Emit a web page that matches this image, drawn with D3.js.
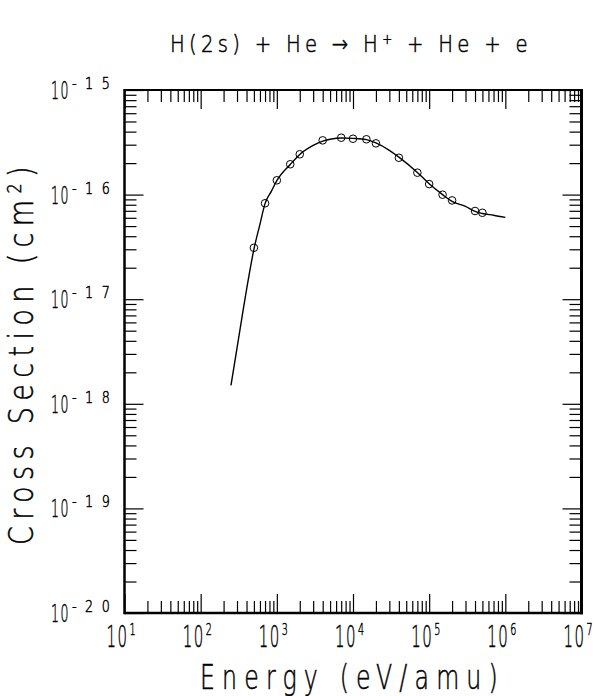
<!DOCTYPE html>
<html>
<head>
<meta charset="utf-8">
<script src="https://cdn.jsdelivr.net/npm/d3@7"></script>
<style>
  html, body { margin: 0; padding: 0; background: #fff; }
  svg { display: block; }
  text { font-family: "DejaVu Sans", "Liberation Sans", sans-serif; font-weight: 200; fill: #000; stroke: #000; stroke-width: 0.5; }
</style>
</head>
<body>
<svg id="chart" width="598" height="696"></svg>
<script>
// ---- data ----
const curveEnergy = [250, 300, 400, 500, 600, 700, 850, 1000, 1500, 2000, 3000, 4000, 5000, 7000,
  10000, 15000, 20000, 30000, 40000, 70000, 100000, 150000, 200000, 300000, 400000, 500000, 700000, 1000000];
const curveSigma = [1.5e-18, 3.4e-18, 1.23e-17, 3.0e-17, 5.2e-17, 8.2e-17, 1.08e-16, 1.36e-16, 1.94e-16,
  2.42e-16, 2.95e-16, 3.25e-16, 3.38e-16, 3.48e-16, 3.45e-16, 3.35e-16, 3.12e-16, 2.65e-16, 2.28e-16,
  1.63e-16, 1.27e-16, 1.0e-16, 8.6e-17, 7.7e-17, 6.9e-17, 6.6e-17, 6.35e-17, 6.05e-17];
const pointEnergy = [500, 700, 1000, 1500, 2000, 4000, 7000, 10000, 15000, 20000, 40000, 70000,
  100000, 150000, 200000, 400000, 500000];
const pointSigma = [3.1e-17, 8.26e-17, 1.37e-16, 1.95e-16, 2.43e-16, 3.30e-16, 3.50e-16, 3.42e-16,
  3.38e-16, 3.09e-16, 2.25e-16, 1.62e-16, 1.26e-16, 9.98e-17, 8.8e-17, 6.97e-17, 6.7e-17];
const xExponents = ["1", "2", "3", "4", "5", "6", "7"];
const yExponents = ["-20", "-19", "-18", "-17", "-16", "-15"];
const titleText = ["H(2s) + He \u2192 H", "+", " + He + e"];
const xTitle = "Energy (eV/amu)";
const yTitle = ["Cross Section (cm", "2", ")"];

// ---- layout ----
const L = 124.5, R = 581.5, T = 90, B = 613;
const svg = d3.select("#chart");
const x = d3.scaleLog().domain([1e1, 1e7]).range([L, R]);
const y = d3.scaleLog().domain([1e-20, 1e-15]).range([B, T]);

const xMajor = xExponents.map(e => Math.pow(10, +e));
const yMajor = yExponents.map(e => Math.pow(10, +e));
const xMinor = [], yMinor = [];
for (let d = 1; d < 7; d++) for (let k = 2; k <= 9; k++) xMinor.push(k * Math.pow(10, d));
for (let d = -20; d < -15; d++) for (let k = 2; k <= 9; k++) yMinor.push(k * Math.pow(10, d));

function axisGroup(axis, tx, ty) {
  const g = svg.append("g").attr("transform", `translate(${tx},${ty})`).call(axis);
  g.select(".domain").remove();
  g.selectAll("text").remove();
  g.selectAll("line").attr("stroke", "#000").attr("stroke-width", 1.2);
  return g;
}
const MJ = 19, MN = 12;
axisGroup(d3.axisBottom(x).tickValues(xMajor).tickSizeInner(-MJ).tickSizeOuter(0), 0, B);
axisGroup(d3.axisBottom(x).tickValues(xMinor).tickSizeInner(-MN).tickSizeOuter(0), 0, B);
axisGroup(d3.axisTop(x).tickValues(xMajor).tickSizeInner(-MJ).tickSizeOuter(0), 0, T);
axisGroup(d3.axisTop(x).tickValues(xMinor).tickSizeInner(-MN).tickSizeOuter(0), 0, T);
axisGroup(d3.axisLeft(y).tickValues(yMajor).tickSizeInner(-MJ).tickSizeOuter(0), L, 0);
axisGroup(d3.axisLeft(y).tickValues(yMinor).tickSizeInner(-MN).tickSizeOuter(0), L, 0);
axisGroup(d3.axisRight(y).tickValues(yMajor).tickSizeInner(-MJ).tickSizeOuter(0), R, 0);
axisGroup(d3.axisRight(y).tickValues(yMinor).tickSizeInner(-MN).tickSizeOuter(0), R, 0);

// frame
svg.append("line").attr("x1", L).attr("x2", L).attr("y1", T - 1).attr("y2", B + 1.25).attr("stroke", "#000").attr("stroke-width", 2.5);
svg.append("line").attr("x1", L).attr("x2", R).attr("y1", T).attr("y2", T).attr("stroke", "#000").attr("stroke-width", 2);
svg.append("line").attr("x1", L).attr("x2", R + 1.5).attr("y1", B).attr("y2", B).attr("stroke", "#000").attr("stroke-width", 2.5);
svg.append("line").attr("x1", R).attr("x2", R).attr("y1", T - 1).attr("y2", B + 1.25).attr("stroke", "#000").attr("stroke-width", 3);

// scaled text helper (horizontal condensing like the stroke font)
function stxt(str, px, py, size, sx, anchor, ls) {
  return svg.append("text")
    .attr("transform", `translate(${px},${py}) scale(${sx},1)`)
    .attr("font-size", size).attr("text-anchor", anchor || "start")
    .style("letter-spacing", (ls || 0) + "px")
    .text(str);
}
// fit a text (built at origin) into a target width, then place/rotate it
function fit(sel, px, py, width, rot) {
  const bb = sel.node().getBBox();
  const s = width / bb.width;
  sel.attr("transform", `translate(${px},${py}) rotate(${rot || 0}) scale(${s},1) translate(${-bb.x},0)`);
}

// x tick labels
xExponents.forEach((e, i) => {
  const px = x(xMajor[i]);
  stxt("10", px - 18, 647, 30, 0.5, "start", 3);
  stxt(e, px + 5, 635, 16, 0.6, "start", 0);
});
// y tick labels
yExponents.forEach((e, i) => {
  const py = y(yMajor[i]);
  stxt("10", 51, py + 9, 25, 0.5, "start", 3);
  stxt(e, 72, py - 1, 15, 0.85, "start", 10);
});

// titles
const t = svg.append("text").attr("font-size", 23).style("letter-spacing", "5px");
t.append("tspan").text(titleText[0]);
t.append("tspan").attr("dy", -8).attr("font-size", 14).text(titleText[1]);
t.append("tspan").attr("dy", 8).text(titleText[2]);
fit(t, 170, 52, 362);

const xt = svg.append("text").attr("font-size", 33).style("letter-spacing", "10px").text(xTitle);
fit(xt, 200, 689, 305);

const yt = svg.append("text").attr("font-size", 34).style("letter-spacing", "8px");
yt.append("tspan").text(yTitle[0]);
yt.append("tspan").attr("dy", -12).attr("font-size", 20).text(yTitle[1]);
yt.append("tspan").attr("dy", 12).text(yTitle[2]);
fit(yt, 33, 545, 385, -90);

// curve
const curveData = curveEnergy.map((e, i) => [e, curveSigma[i]]);
svg.append("path").datum(curveData)
  .attr("fill", "none").attr("stroke", "#000").attr("stroke-width", 1.4)
  .attr("d", d3.line().x(d => x(d[0])).y(d => y(d[1])).curve(d3.curveMonotoneX));

// points
svg.append("g").selectAll("circle").data(pointEnergy.map((e, i) => [e, pointSigma[i]]))
  .join("circle")
  .attr("cx", d => x(d[0])).attr("cy", d => y(d[1])).attr("r", 3.8)
  .attr("fill", "none").attr("stroke", "#000").attr("stroke-width", 1);
</script>
</body>
</html>
